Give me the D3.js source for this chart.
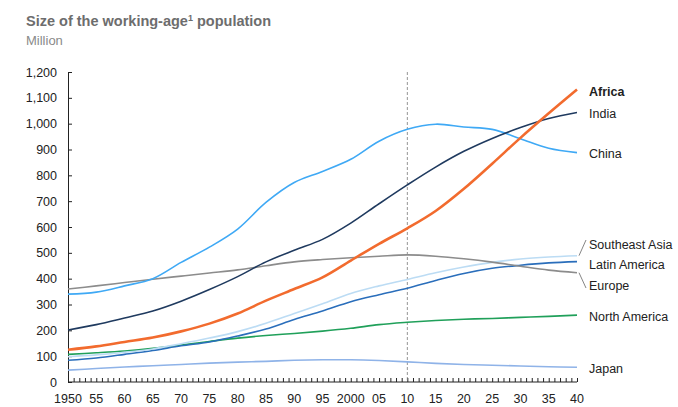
<!DOCTYPE html>
<html>
<head>
<meta charset="utf-8">
<script src="https://cdn.jsdelivr.net/npm/d3@7"></script>
<style>
  body { margin: 0; background: #fff; }
  text { font-family: "Liberation Sans", Arial, sans-serif; }
</style>
</head>
<body>
<div id="chart"></div>
<script>
// data (every 5 years)
const years = [1950, 1955, 1960, 1965, 1970, 1975, 1980, 1985, 1990, 1995, 2000, 2005, 2010, 2015, 2020, 2025, 2030, 2035, 2040];
const africa = [125, 138, 155, 172, 196, 226, 265, 315, 360, 405, 470, 535, 595, 662, 748, 845, 945, 1040, 1132];
const india = [201, 222, 248, 275, 313, 358, 408, 465, 510, 552, 615, 690, 763, 832, 893, 943, 985, 1020, 1043];
const china = [340, 348, 372, 400, 463, 522, 592, 695, 772, 815, 862, 932, 978, 998, 987, 978, 942, 905, 888];
const europe = [360, 372, 385, 398, 410, 422, 434, 450, 465, 474, 481, 487, 492, 487, 477, 464, 448, 433, 423];
const seAsia = [98, 105, 115, 128, 148, 170, 195, 227, 265, 303, 343, 372, 397, 423, 445, 463, 476, 484, 489];
const latAm = [84, 93, 107, 122, 140, 155, 178, 205, 242, 275, 311, 338, 363, 393, 420, 440, 452, 461, 466];
const northAm = [107, 113, 120, 130, 143, 157, 170, 180, 188, 197, 208, 222, 231, 238, 243, 246, 250, 254, 259];
const japan = [46, 52, 58, 63, 68, 73, 77, 80, 84, 86, 86, 83, 78, 72, 68, 65, 62, 59, 57];

const yTicks = [0, 100, 200, 300, 400, 500, 600, 700, 800, 900, 1000, 1100, 1200];
const xTickLabels = ["1950", "55", "60", "65", "70", "75", "80", "85", "90", "95", "2000", "05", "10", "15", "20", "25", "30", "35", "40"];

const series = [
  {name: "Japan", values: japan, color: "#8fb3e8", width: 1.6, labelY: 368},
  {name: "North America", values: northAm, color: "#20a05a", width: 1.6, labelY: 316},
  {name: "Latin America", values: latAm, color: "#2a6ebb", width: 1.6, labelY: 264},
  {name: "Southeast Asia", values: seAsia, color: "#bcdcf4", width: 1.6, labelY: 244},
  {name: "Europe", values: europe, color: "#8c8c8c", width: 1.6, labelY: 285},
  {name: "China", values: china, color: "#3fa9f5", width: 1.6, labelY: 153},
  {name: "India", values: india, color: "#1f3a5f", width: 1.6, labelY: 113},
  {name: "Africa", values: africa, color: "#f26b2e", width: 2.6, labelY: 91, bold: true}
];

const W = 678, H = 407;
const x = d3.scaleLinear().domain([1950, 2040]).range([68, 577]);
const y = d3.scaleLinear().domain([0, 1200]).range([382, 72]);

const svg = d3.select("#chart").append("svg")
  .attr("width", W)
  .attr("height", H);

// title
svg.append("text")
  .attr("x", 26).attr("y", 26)
  .attr("fill", "#6d6d6d")
  .style("font-size", "14.5px").style("font-weight", "bold")
  .text("Size of the working-age")
  .append("tspan").attr("dy", -5).style("font-size", "9px").text("1")
  .select(function() { return this.parentNode; })
  .append("tspan").attr("dy", 5).text(" population");

svg.append("text")
  .attr("x", 26).attr("y", 45)
  .attr("fill", "#8a8a8a")
  .style("font-size", "13px")
  .text("Million");

// y axis, ticks pointing inward
const yAxis = svg.append("g")
  .attr("transform", `translate(${x(1950)},0)`)
  .call(d3.axisRight(y).tickValues(yTicks).tickSize(4).tickFormat(""));
yAxis.select(".domain").attr("stroke", "#222");
yAxis.selectAll(".tick line").attr("stroke", "#222");

svg.selectAll(".ylab")
  .data(yTicks)
  .enter().append("text")
  .attr("class", "ylab")
  .attr("x", 57)
  .attr("y", d => y(d) + 4.5)
  .attr("text-anchor", "end")
  .attr("fill", "#222")
  .style("font-size", "12.5px")
  .text(d => d3.format(",")(d));

// x axis, yearly ticks pointing up
const xAxis = svg.append("g")
  .attr("transform", `translate(0,${y(0)})`)
  .call(d3.axisTop(x).tickValues(d3.range(1950, 2041)).tickSize(4).tickFormat("").tickSizeOuter(0));
xAxis.select(".domain").remove();
xAxis.selectAll(".tick line").attr("stroke", "#222");
svg.append("line")
  .attr("x1", x(1950)).attr("x2", x(2040))
  .attr("y1", y(0)).attr("y2", y(0))
  .attr("stroke", "#222");

svg.selectAll(".xlab")
  .data(years)
  .enter().append("text")
  .attr("class", "xlab")
  .attr("x", d => x(d))
  .attr("y", 403)
  .attr("text-anchor", "middle")
  .attr("fill", "#222")
  .style("font-size", "12.5px")
  .text((d, i) => xTickLabels[i]);

// 2010 marker
svg.append("line")
  .attr("x1", x(2010)).attr("x2", x(2010))
  .attr("y1", y(1200)).attr("y2", y(0))
  .attr("stroke", "#777")
  .attr("stroke-width", 0.8)
  .attr("stroke-dasharray", "3,2");

// lines
const line = d3.line()
  .x((d, i) => x(years[i]))
  .y(d => y(d))
  .curve(d3.curveCatmullRom.alpha(0.5));

svg.selectAll(".series")
  .data(series)
  .enter().append("path")
  .attr("class", "series")
  .attr("fill", "none")
  .attr("stroke", d => d.color)
  .attr("stroke-width", d => d.width)
  .attr("d", d => line(d.values));

// labels
svg.selectAll(".lab")
  .data(series)
  .enter().append("text")
  .attr("class", "lab")
  .attr("x", 589)
  .attr("y", d => d.labelY + 4.5)
  .attr("fill", "#222")
  .style("font-size", "12.5px")
  .style("font-weight", d => d.bold ? "bold" : "normal")
  .text(d => d.name);

// leader lines for the crowded labels
const leaders = [
  {from: seAsia[seAsia.length - 1], toY: 240},
  {from: europe[europe.length - 1], toY: 288}
];
svg.selectAll(".leader")
  .data(leaders)
  .enter().append("path")
  .attr("class", "leader")
  .attr("fill", "none")
  .attr("stroke", "#666")
  .attr("stroke-width", 0.8)
  .attr("d", d => `M${x(2040) + 2},${y(d.from)} L${x(2040) + 9},${d.toY}`);
</script>
</body>
</html>
